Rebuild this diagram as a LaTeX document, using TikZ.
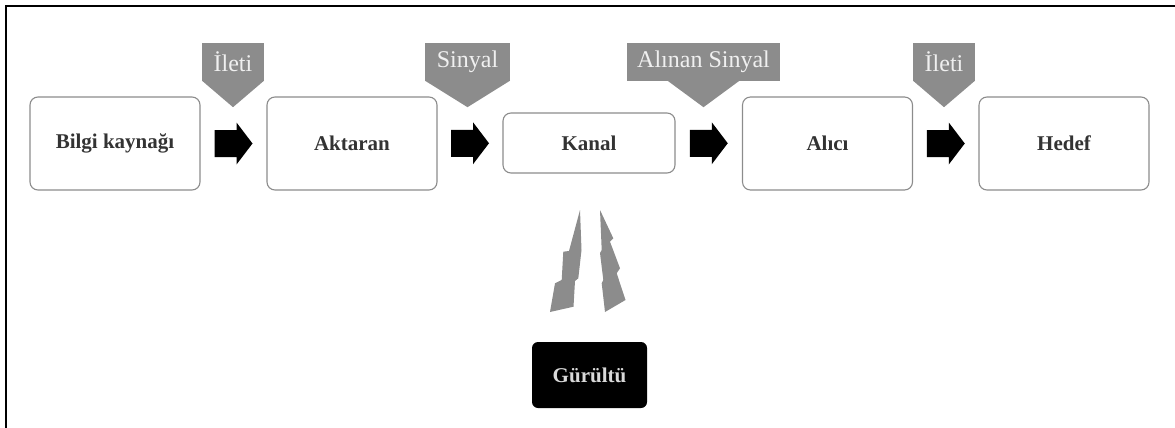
\documentclass[tikz,border=0pt]{standalone}
\usepackage{fontspec}
\setmainfont{Liberation Serif}
\usetikzlibrary{calc}

\begin{document}
\begin{tikzpicture}[x=1pt,y=-1pt]
\tikzstyle{stage}=[draw=black!45,line width=1.1pt,rounded corners=8pt,minimum width=170pt,minimum height=93pt,font=\fontsize{21}{24}\selectfont\bfseries,text=black!80]
\tikzstyle{tag}=[fill=black!45,inner sep=0pt,minimum height=38pt,font=\fontsize{24}{27}\selectfont,text=white!94!black]
\useasboundingbox (0,0) rectangle (1175,428);
\draw[line width=2pt] (6,428) -- (6,6) -- (1175,6);
% stages
\foreach \n/\x/\t in {src/115/Bilgi kaynağı,tx/352/Aktaran,rx/827.5/Alıcı,dst/1064/Hedef} \node[stage] (\n) at (\x,143.5) {\t};
\node[stage,minimum width=172pt,minimum height=60pt] (ch) at (589,143) {Kanal};
% block arrows
\foreach \a/\b in {src/tx,tx/ch,ch/rx,rx/dst} {
  \coordinate (m) at ($(\a.east)!0.5!(\b.west)$);
  \fill[black] (m) ++(-19,-13.5) -- ++(22,0) -- ++(0,-7.5) -- ++(16,21) -- ++(-16,21) -- ++(0,-7.5) -- ++(-22,0) -- cycle;
}
% labels above
\foreach \n/\x/\w/\h/\t in {msg1/233/62/31/İleti,sig/467.5/85/42.5/Sinyal,rsig/703.5/153/36/Alınan Sinyal,msg2/944/62/31/İleti} {
  \node[tag,minimum width=\w pt] (\n) at (\x,62) {\t};
  \fill[black!45] ($(\n.south)+(-\h,-0.5)$) -- ($(\n.south)+(\h,-0.5)$) -- ($(\n.south)+(0,26)$) -- cycle;
}
% noise
\fill[black!45] (580,210) -- (569,251) -- (563.3,251.7) -- (561.7,280) -- (555,283.3) -- (550,312) -- (573.5,306.7) -- (575,281) -- (578.3,278.3) -- (581.5,250) -- cycle;
\fill[black!45] (600,210) -- (613.3,238.3) -- (610,241.7) -- (620,268.3) -- (616.7,273.3) -- (625.5,300) -- (605,312) -- (601.7,283.3) -- (603.3,280) -- (600,253) -- (601.7,250) -- cycle;
\node[fill=black,rounded corners=6pt,minimum width=115pt,minimum height=66pt,font=\fontsize{21}{24}\selectfont\bfseries,text=black!15] (noise) at (589.5,375) {Gürültü};
\end{tikzpicture}
\end{document}
